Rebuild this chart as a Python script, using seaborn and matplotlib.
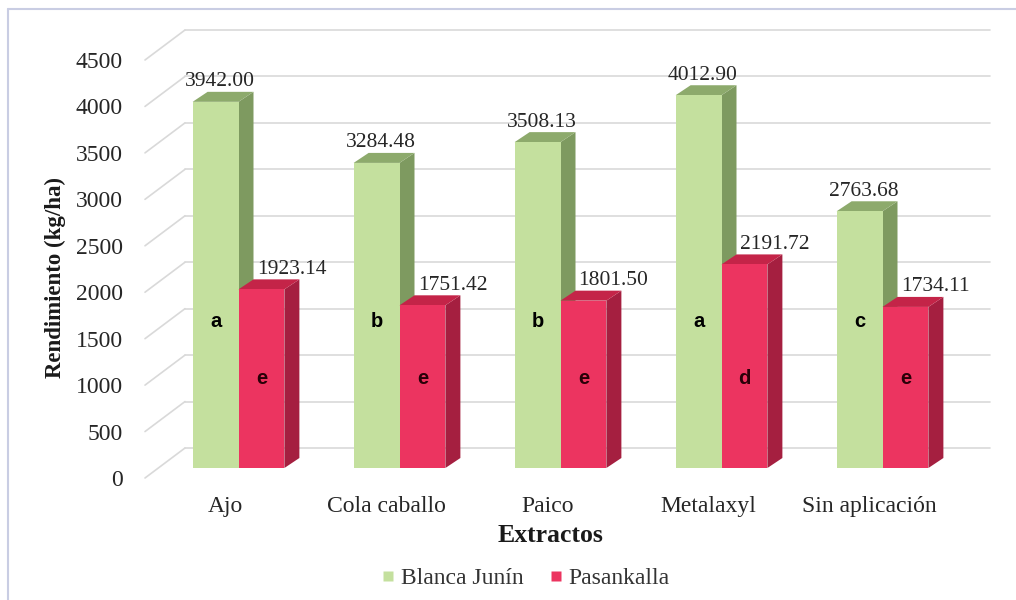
import numpy as np
import pandas as pd
import matplotlib
matplotlib.use("Agg")
import matplotlib.pyplot as plt
import matplotlib.transforms as mtransforms
from matplotlib.patches import Polygon
from matplotlib.lines import Line2D
import seaborn as sns

# ---------------- data ----------------
categories = ["Ajo", "Cola caballo", "Paico", "Metalaxyl", "Sin aplicación"]
series_names = ["Blanca Junín", "Pasankalla"]
blanca = [3942.00, 3284.48, 3508.13, 4012.90, 2763.68]
pasankalla = [1923.14, 1751.42, 1801.50, 2191.72, 1734.11]
letters_blanca = ["a", "b", "b", "a", "c"]
letters_pasankalla = ["e", "e", "e", "d", "e"]
yticks = [0, 500, 1000, 1500, 2000, 2500, 3000, 3500, 4000, 4500]

df = pd.DataFrame({
    "Extracto": categories * 2,
    "Variedad": [series_names[0]] * 5 + [series_names[1]] * 5,
    "Rendimiento": blanca + pasankalla,
})

# ---------------- style ----------------
sns.set_theme(style="white")
plt.rcParams["font.family"] = ["Liberation Serif", "DejaVu Serif"]

front = ["#C4E09E", "#EC3460"]
side = ["#7E9A60", "#A51F40"]
top = ["#8DAA6C", "#C42448"]

W, H, DPI = 10.16, 6.0, 100
fig = plt.figure(figsize=(W, H), dpi=DPI)
ax_l, ax_b, ax_w, ax_h = 145, 122, 805, 418  # pixels
ax = fig.add_axes([ax_l / 1016, ax_b / 600, ax_w / 1016, ax_h / 600])

sns.barplot(data=df, x="Extracto", y="Rendimiento", hue="Variedad",
            hue_order=series_names, order=categories, palette=front,
            width=0.57, dodge=True, gap=0, saturation=1, legend=False,
            errorbar=None, ax=ax, linewidth=0, zorder=3)

ax.set_xlim(-0.5, 4.5)
ax.set_ylim(0, 4500)

# pixel -> data unit conversion
px_x = (4.5 - (-0.5)) / ax_w
px_y = 4500 / ax_h

# perspective offsets (pixels)
bar_dx, bar_dy = 13, 10      # bar plane relative to front plane
dep_dx, dep_dy = 15, 10      # bar depth
wall_dx, wall_dy = 40, 30    # back wall

# ---- back wall gridlines and left wall diagonals ----
for t in yticks:
    ax.plot([-0.5 + wall_dx * px_x, 4.5 + wall_dx * px_x],
            [t + wall_dy * px_y, t + wall_dy * px_y],
            color="#D9D9D9", lw=1.2, zorder=1, clip_on=False)
    ax.plot([-0.5, -0.5 + wall_dx * px_x], [t, t + wall_dy * px_y],
            color="#D9D9D9", lw=1.2, zorder=1, clip_on=False)

# ---- bars: shift to bar plane and add depth faces ----
shift = mtransforms.ScaledTranslation(bar_dx / DPI, bar_dy / DPI, fig.dpi_scale_trans)
patches = list(ax.patches)
n = len(categories)
for i, p in enumerate(patches):
    s = 0 if i < n else 1
    p.set_transform(ax.transData + shift)
    p.set_zorder(3 + (s * 0.1))
    x0 = p.get_x()
    w = p.get_width()
    h = p.get_height()
    x1 = x0 + w
    ddx, ddy = dep_dx * px_x, dep_dy * px_y
    side_poly = Polygon([(x1, 0), (x1, h), (x1 + ddx, h + ddy), (x1 + ddx, ddy)],
                        closed=True, facecolor=side[s], edgecolor="none",
                        transform=ax.transData + shift, zorder=2.9 + s * 0.1,
                        clip_on=False)
    top_poly = Polygon([(x0, h), (x1, h), (x1 + ddx, h + ddy), (x0 + ddx, h + ddy)],
                       closed=True, facecolor=top[s], edgecolor="none",
                       transform=ax.transData + shift, zorder=2.9 + s * 0.1,
                       clip_on=False)
    ax.add_patch(side_poly)
    ax.add_patch(top_poly)
    # value label
    val = blanca[i] if s == 0 else pasankalla[i - n]
    xoff = 4 if s == 0 else 30
    ax.annotate(f"{val:.2f}", xy=(x0 + w / 2, h), xycoords=ax.transData + shift,
                xytext=(xoff * 0.72, 20 * 0.72), textcoords="offset points",
                ha="center", va="center", fontsize=15.5, color="#262626",
                zorder=6, annotation_clip=False)
    # letter
    letter = letters_blanca[i] if s == 0 else letters_pasankalla[i - n]
    ly = 1580 if s == 0 else 960
    ax.text(x0 + w / 2, ly, letter, transform=ax.transData + shift,
            ha="center", va="center", fontsize=14.5, fontweight="bold",
            family=["Liberation Sans", "DejaVu Sans"],
            color="#000000" if s == 0 else "#2A0008", zorder=6)

# ---- axes cosmetics ----
for sp in ax.spines.values():
    sp.set_visible(False)
ax.set_yticks(yticks)
ax.set_yticklabels([str(t) for t in yticks], fontsize=17, color="#262626")
ax.tick_params(axis="y", length=0, pad=16)
ax.set_xticks(range(n))
ax.set_xticklabels(categories, fontsize=17, color="#262626")
ax.tick_params(axis="x", length=0, pad=13)
ax.set_xlabel("")
ax.set_ylabel("")
ax.grid(False)

fig.text(550 / 1016, 1 - 536 / 600, "Extractos", ha="center", va="center",
         fontsize=18.5, fontweight="bold", color="#1A1A1A")
fig.text(55 / 1016, 1 - 277 / 600, "Rendimiento (kg/ha)", ha="center", va="center",
         rotation=90, fontsize=16.5, fontweight="bold", color="#1A1A1A")

# legend
handles = [Line2D([], [], marker="s", linestyle="none", markersize=7,
                  markerfacecolor=front[k], markeredgecolor="none") for k in range(2)]
fig.legend(handles, series_names, loc="center", bbox_to_anchor=(525 / 1016, 1 - 578 / 600),
           ncol=2, frameon=False, fontsize=17, handletextpad=0.2, columnspacing=1.0,
           handlelength=0.7, labelcolor="#333333")

# outer border (top and left)
fig.add_artist(Line2D([8 / 1016, 1.0], [1 - 9 / 600, 1 - 9 / 600],
                      transform=fig.transFigure, color="#C9CDE3", lw=1.5))
fig.add_artist(Line2D([8 / 1016, 8 / 1016], [0, 1 - 9 / 600],
                      transform=fig.transFigure, color="#C9CDE3", lw=1.5))

fig.savefig("out.png", dpi=DPI)
